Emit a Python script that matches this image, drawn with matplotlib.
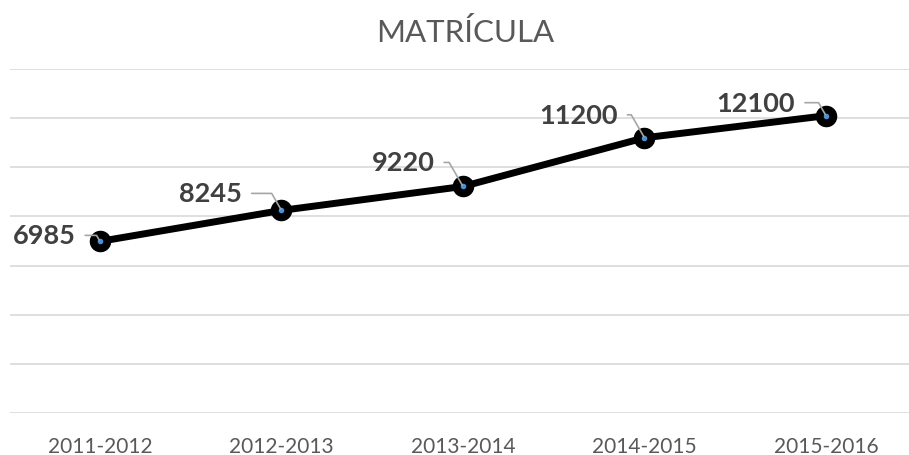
import matplotlib.pyplot as plt

plt.rcParams["font.family"] = ["Lato", "DejaVu Sans"]

years = ["2011-2012", "2012-2013", "2013-2014", "2014-2015", "2015-2016"]
enrollment = [6985, 8245, 9220, 11200, 12100]

# label offsets from the marker, in pixels (x right, y up)
label_offsets = [(-56, 6), (-71, 17), (-60, 24), (-66, 23), (-70, 13)]


def main():
    fig = plt.figure(figsize=(9.09, 4.56), dpi=100)
    W, H = 909, 456
    left, right, top, bottom = 10, 909, 70, 414
    ax = fig.add_axes([left / W, (H - bottom) / H, (right - left) / W, (bottom - top) / H])

    # categories sit at x=100 and step 181.5 px
    step = 181.5
    ax.set_xlim(-(100 - left) / step, (right - 100) / step)
    ax.set_ylim(0, 14000)
    ax.set_yticks(range(0, 14001, 2000))
    ax.yaxis.grid(True, color="#d9d9d9", linewidth=1.2)
    ax.set_axisbelow(True)
    for s in ax.spines.values():
        s.set_visible(False)
    ax.tick_params(axis="y", left=False, labelleft=False)
    ax.tick_params(axis="x", bottom=False, labelsize=15, labelcolor="#595959", pad=13)

    x = list(range(len(years)))
    ax.set_xticks(x)
    ax.set_xticklabels(years)
    ax.plot(x, enrollment, color="black", linewidth=5, solid_capstyle="round", zorder=3)
    ax.plot(x, enrollment, "o", color="black", markersize=14.5, zorder=4)
    ax.plot(x, enrollment, "o", color="#4a90d9", markersize=3, zorder=5)

    for xi, v, (dx, dy) in zip(x, enrollment, label_offsets):
        ax.annotate(
            str(v), xy=(xi, v), xytext=(dx * 0.72, dy * 0.72), textcoords="offset points",
            ha="center", va="center", fontsize=19.5, fontweight="bold", color="#404040",
            arrowprops=dict(arrowstyle="-", color="#a6a6a6", lw=1.2, relpos=(1, 0.5),
                            shrinkA=5, shrinkB=1,
                            connectionstyle="angle,angleA=0,angleB=120,rad=0"),
            zorder=6,
        )

    fig.text(465 / W, 1 - 33 / H, "MATRÍCULA", ha="center", va="center",
             fontsize=22.5, color="#595959")

    fig.savefig("out.png", dpi=100)


if __name__ == "__main__":
    main()
